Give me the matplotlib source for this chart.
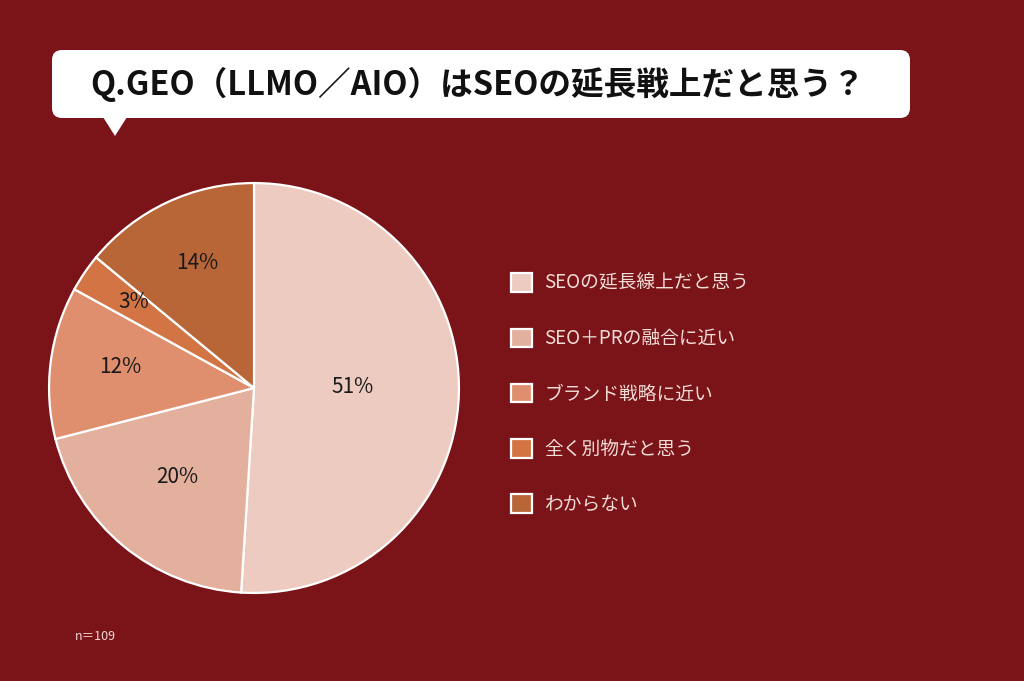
import matplotlib
matplotlib.use("AGG")
import numpy as np
from matplotlib import pyplot as plt
from matplotlib.patches import FancyBboxPatch, Polygon

plt.rcParams['font.family'] = ['Noto Sans CJK JP', 'DejaVu Sans']

title = "Q.GEO（LLMO／AIO）はSEOの延長戦上だと思う？"
labels = ["SEOの延長線上だと思う", "SEO＋PRの融合に近い", "ブランド戦略に近い",
          "全く別物だと思う", "わからない"]
shares = [51, 20, 12, 3, 14]
colors = ["#edcbc1", "#e4b09e", "#df8f6d", "#d27444", "#b86538"]
n_note = "n＝109"

# label distance from the centre, per slice (fraction of radius)
label_r = [0.48, 0.59, 0.66, 0.71, 0.65]

bg = "#7a1419"
W, H = 1024, 681
fig = plt.figure(figsize=(W / 100, H / 100), dpi=100, facecolor=bg)

# overlay in pixel units for the speech bubble and note
ov = fig.add_axes([0, 0, 1, 1])
ov.set_xlim(0, W)
ov.set_ylim(H, 0)
ov.axis("off")
ov.add_patch(FancyBboxPatch((52, 50), 858, 68, boxstyle="round,pad=0,rounding_size=10",
                            fc="white", ec="none"))
ov.add_patch(Polygon([(103, 117), (127, 117), (115, 136)], closed=True, fc="white", ec="none"))
ov.text(478, 84, title, ha="center", va="center", fontsize=23.5, fontweight="bold",
        color="#111111")
ov.text(75, 636, n_note, ha="left", va="center", fontsize=9, color="#f0d8d0")

# pie
ax = fig.add_axes([47 / W, 1 - 595 / H, 414 / W, 414 / H])
wedges, texts, autotexts = ax.pie(
    shares, colors=colors, startangle=90, counterclock=False,
    autopct="%d%%", pctdistance=0.6,
    wedgeprops=dict(edgecolor="white", linewidth=1.6),
    textprops=dict(fontsize=15, color="#1a1a1a"))
for w, t, r in zip(wedges, autotexts, label_r):
    mid = np.deg2rad((w.theta1 + w.theta2) / 2)
    t.set_position((r * np.cos(mid), r * np.sin(mid) + 0.02))
ax.set_xlim(-1.01, 1.01)
ax.set_ylim(-1.01, 1.01)
ax.set_aspect("equal")

fig.legend(wedges, labels, loc="upper left", bbox_to_anchor=(494 / W, 1 - 256 / H),
           frameon=False, fontsize=13.5, labelcolor="#f2dcd6",
           handlelength=1.15, handleheight=1.15, labelspacing=1.83, handletextpad=0.65)

fig.savefig("out.png", dpi=100, facecolor=bg)
